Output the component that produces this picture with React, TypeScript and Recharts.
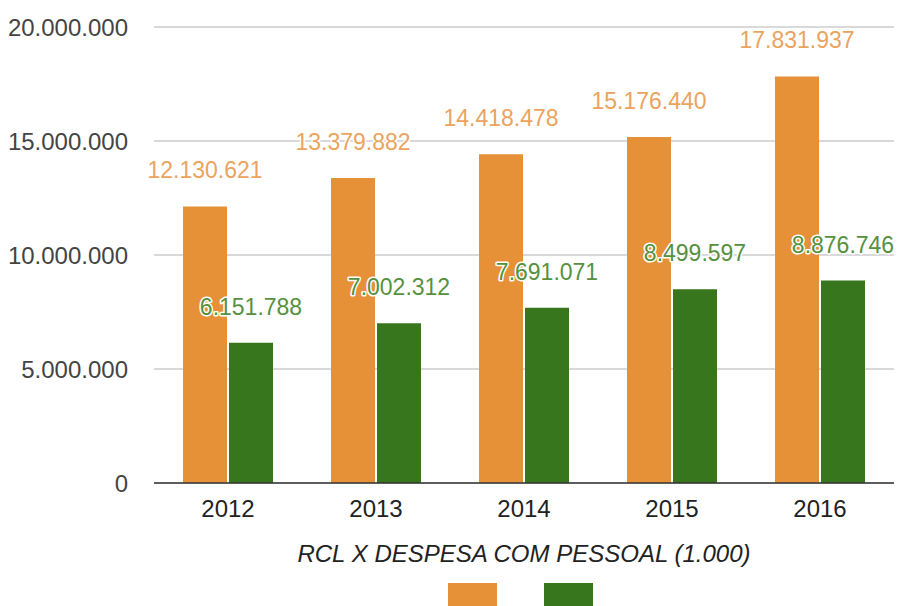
import React from "react";
import {
  BarChart,
  Bar,
  XAxis,
  YAxis,
  CartesianGrid,
  LabelList,
  Legend,
  Label,
} from "recharts";

const years = ["2012", "2013", "2014", "2015", "2016"];
const rcl = [12130621, 13379882, 14418478, 15176440, 17831937];
const despesaPessoal = [6151788, 7002312, 7691071, 8499597, 8876746];
const yTicks = [0, 5000000, 10000000, 15000000, 20000000];

const data = years.map((year, i) => ({
  year,
  rcl: rcl[i],
  pessoal: despesaPessoal[i],
}));

const ORANGE = "#e69138";
const GREEN = "#38761d";
const FONT = "'Liberation Sans', Arial, sans-serif";

const fmt = (v: number) =>
  String(Math.round(v)).replace(/\B(?=(\d{3})+(?!\d))/g, ".");

function LegendBoxes() {
  return (
    <div style={{ position: "relative", width: 901, height: 30 }}>
      <div
        style={{
          position: "absolute",
          left: 448,
          top: 0,
          width: 49,
          height: 30,
          background: ORANGE,
        }}
      />
      <div
        style={{
          position: "absolute",
          left: 544,
          top: 0,
          width: 49,
          height: 30,
          background: GREEN,
        }}
      />
    </div>
  );
}

function TitleLabel(props: any) {
  const { viewBox } = props;
  return (
    <text
      x={viewBox.x + viewBox.width / 2}
      y={viewBox.y + 79}
      textAnchor="middle"
      fontFamily={FONT}
      fontSize={24}
      fontStyle="italic"
      fill="#222"
    >
      RCL X DESPESA COM PESSOAL (1.000)
    </text>
  );
}

const labelStyle = {
  fontFamily: FONT,
  fontSize: 23,
  stroke: "#fff",
  strokeWidth: 3,
  paintOrder: "stroke",
  strokeLinejoin: "round",
} as const;

export default function App() {
  return (
    <div
      style={{
        position: "absolute",
        left: 0,
        top: 0,
        width: 901,
        height: 606,
        overflow: "hidden",
        background: "#fff",
      }}
    >
      <BarChart
        width={901}
        height={606}
        data={data}
        margin={{ top: 27, right: 7, left: 0, bottom: 13 }}
        barCategoryGap="19.6%"
        barGap={2}
      >
        <CartesianGrid vertical={false} stroke="#cccccc" strokeWidth={1.5} />
        <XAxis
          dataKey="year"
          height={80}
          tickLine={false}
          tickSize={0}
          tickMargin={17}
          axisLine={{ stroke: "#333", strokeWidth: 1.5 }}
          tick={{ fill: "#222", fontSize: 24, fontFamily: FONT }}
        >
          <Label content={<TitleLabel />} />
        </XAxis>
        <YAxis
          width={154}
          domain={[0, 20000000]}
          ticks={yTicks}
          tickFormatter={fmt}
          axisLine={false}
          tickLine={false}
          tickSize={0}
          tickMargin={26}
          tick={{ fill: "#444", fontSize: 24, fontFamily: FONT }}
        />
        <Legend
          content={<LegendBoxes />}
          wrapperStyle={{ position: "absolute", top: 583, left: 0, width: 901 }}
        />
        <Bar dataKey="rcl" fill={ORANGE} isAnimationActive={false}>
          <LabelList
            dataKey="rcl"
            position="top"
            offset={28}
            formatter={(v: any) => fmt(Number(v))}
            style={{ ...labelStyle, fill: "#eba35e" }}
          />
        </Bar>
        <Bar dataKey="pessoal" fill={GREEN} isAnimationActive={false}>
          <LabelList
            dataKey="pessoal"
            position="top"
            offset={28}
            formatter={(v: any) => fmt(Number(v))}
            style={{ ...labelStyle, fill: "#55913f" }}
          />
        </Bar>
      </BarChart>
    </div>
  );
}
